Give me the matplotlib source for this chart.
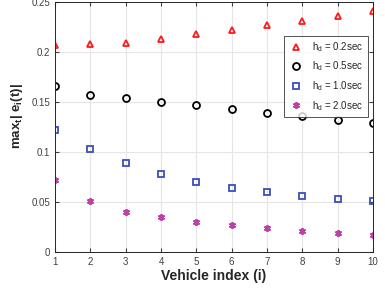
import numpy as np
import matplotlib
matplotlib.use("Agg")
import matplotlib.pyplot as plt

plt.rcParams['font.family'] = ['Liberation Sans', 'DejaVu Sans']
plt.rcParams['mathtext.default'] = 'regular'

vehicles = np.arange(1, 11)
hd_02 = [0.207, 0.208, 0.209, 0.213, 0.218, 0.222, 0.227, 0.231, 0.236, 0.241]
hd_05 = [0.166, 0.157, 0.154, 0.150, 0.147, 0.143, 0.139, 0.136, 0.132, 0.129]
hd_10 = [0.122, 0.103, 0.089, 0.078, 0.070, 0.064, 0.060, 0.056, 0.053, 0.051]
hd_20 = [0.072, 0.051, 0.040, 0.035, 0.030, 0.027, 0.024, 0.021, 0.019, 0.017]
labels = ['h$_d$ = 0.2sec', 'h$_d$ = 0.5sec', 'h$_d$ = 1.0sec', 'h$_d$ = 2.0sec']

fig = plt.figure(figsize=(3.85, 2.9), dpi=100)
ax = fig.add_axes([0.143, 0.132, 0.826, 0.861])

ax.plot(vehicles, hd_02, ls='none', marker='^', ms=5, mfc='none', mec='#ff1a1a', mew=1.3, label=labels[0])
ax.plot(vehicles, hd_05, ls='none', marker='o', ms=5, mfc='none', mec='black', mew=1.3, label=labels[1])
ax.plot(vehicles, hd_10, ls='none', marker='s', ms=4.5, mfc='none', mec='#3a4fb8', mew=1.3, label=labels[2])
ax.plot(vehicles, hd_20, ls='none', marker=(6, 2, 0), ms=5, mec='#c040a8', mew=1.3, label=labels[3])

ax.set_xlim(1, 10)
ax.set_ylim(0, 0.25)
ax.set_xticks(vehicles)
ax.set_yticks([0, 0.05, 0.1, 0.15, 0.2, 0.25])
ax.set_yticklabels(['0', '0.05', '0.1', '0.15', '0.2', '0.25'])
ax.grid(True, color='#e6e6e6', lw=0.8)
ax.set_axisbelow(True)
ax.tick_params(labelsize=7, colors='#404040', length=3, direction='in', top=True, right=True)
for s in ax.spines.values():
    s.set_color('#262626')
    s.set_linewidth(0.7)

ax.set_xlabel('Vehicle index (i)', fontsize=10, fontweight='bold', color='#262626', labelpad=2)
ax.set_ylabel('max$_t$| e$_i$(t)|', fontsize=9.5, fontweight='bold', color='#262626')
ax.yaxis.set_label_coords(-0.095, 0.545)

leg = ax.legend(loc='upper right', bbox_to_anchor=(0.998, 0.885), fontsize=7, frameon=True,
                fancybox=False, edgecolor='#262626', handletextpad=0.8, borderpad=0.45,
                labelspacing=0.6, handlelength=1.6)
leg.get_frame().set_linewidth(0.7)
for t in leg.get_texts():
    t.set_color('#262626')

fig.savefig('out.png', dpi=100)
